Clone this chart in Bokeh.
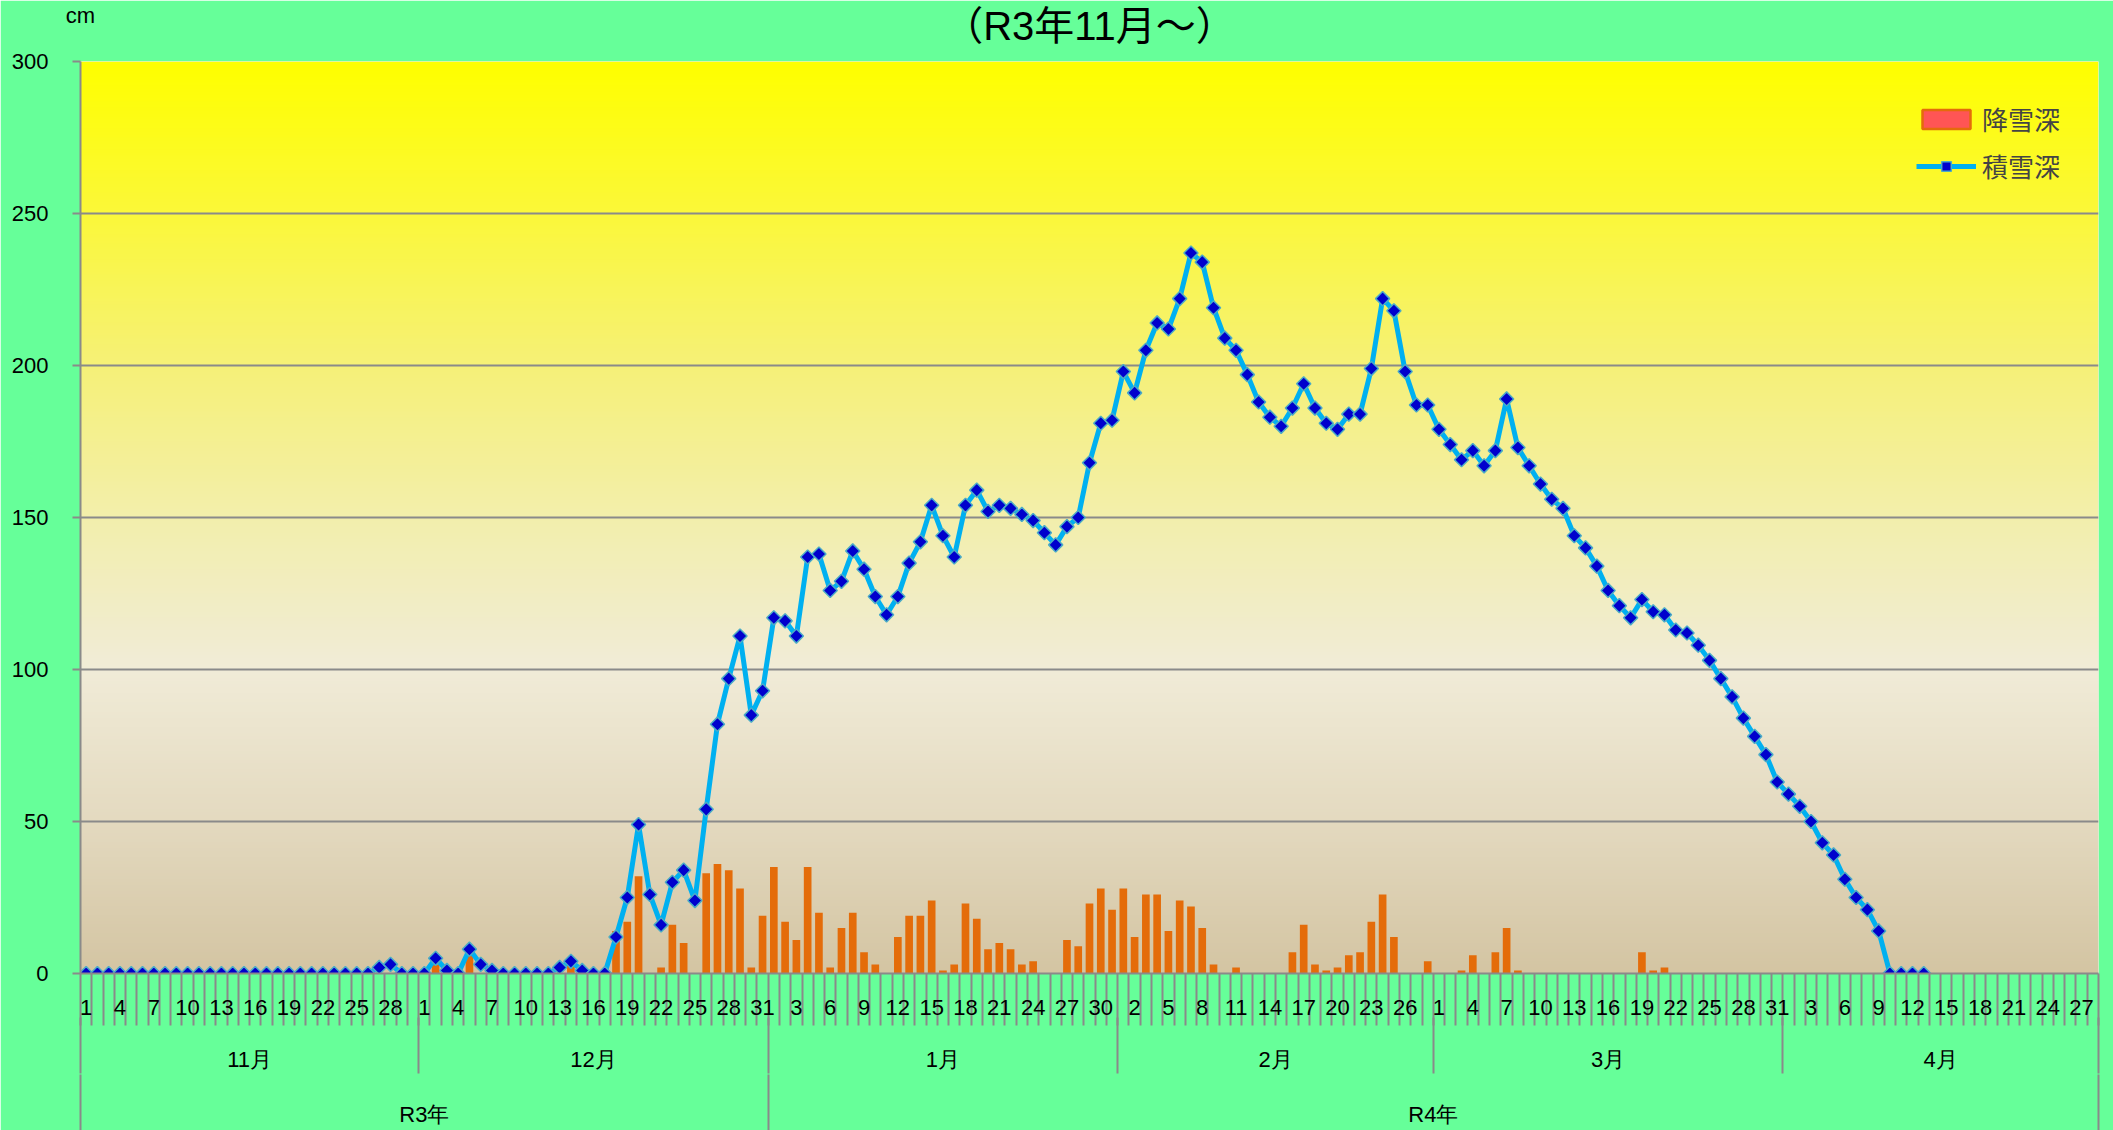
import numpy as np
from bokeh.plotting import figure
from bokeh.models import (ColumnDataSource, Range1d, LinearAxis, FixedTicker, Legend,
                          LegendItem)
from bokeh.embed import file_html
from bokeh.resources import INLINE

# ---------------- data ----------------
title_text = "（R3年11月～）"
unit_text = "cm"
month_names = ["11月", "12月", "1月", "2月", "3月", "4月"]
month_lengths = [30, 31, 31, 28, 31, 28]
year_names = ["R3年", "R4年"]
year_month_counts = [2, 4]
y_ticks = [0, 50, 100, 150, 200, 250, 300]

# 積雪深 (snow depth, cm)
depth_nov = [0] * 26 + [2, 3, 0, 0]
depth_dec = [0, 5, 1, 0, 8, 3, 1, 0, 0, 0, 0, 0, 2, 4, 1, 0, 0, 12, 25, 49,
             26, 16, 30, 34, 24, 54, 82, 97, 111, 85, 93]
depth_jan = [117, 116, 111, 137, 138, 126, 129, 139, 133, 124, 118, 124, 135, 142, 154, 144,
             137, 154, 159, 152, 154, 153, 151, 149, 145, 141, 147, 150, 168, 181, 182]
depth_feb = [198, 191, 205, 214, 212, 222, 237, 234, 219, 209, 205, 197, 188, 183, 180, 186,
             194, 186, 181, 179, 184, 184, 199, 222, 218, 198, 187, 187]
depth_mar = [179, 174, 169, 172, 167, 172, 189, 173, 167, 161, 156, 153, 144, 140, 134, 126,
             121, 117, 123, 119, 118, 113, 112, 108, 103, 97, 91, 84, 78, 72, 63]
depth_apr = [59, 55, 50, 43, 39, 31, 25, 21, 14, 0, 0, 0, 0] + [None] * 15

# 降雪深 (new snowfall, cm)
fall_nov = [0] * 30
fall_dec = [0, 3, 0, 0, 7, 0, 0, 0, 0, 0, 0, 0, 0, 3, 0, 0, 0, 14, 17, 32,
            0, 2, 16, 10, 0, 33, 36, 34, 28, 2, 19]
fall_jan = [35, 17, 11, 35, 20, 2, 15, 20, 7, 3, 0, 12, 19, 19, 24, 1,
            3, 23, 18, 8, 10, 8, 3, 4, 0, 0, 11, 9, 23, 28, 21]
fall_feb = [28, 12, 26, 26, 14, 24, 22, 15, 3, 0, 2, 0, 0, 0, 0, 7,
            16, 3, 1, 2, 6, 7, 17, 26, 12, 0, 0, 4]
fall_mar = [0, 0, 1, 6, 0, 7, 15, 1, 0, 0, 0, 0, 0, 0, 0, 0,
            0, 0, 7, 1, 2, 0, 0, 0, 0, 0, 0, 0, 0, 0, 0]
fall_apr = [0] * 28

# ---------------- build ----------------
depth = depth_nov + depth_dec + depth_jan + depth_feb + depth_mar + depth_apr
fall = fall_nov + fall_dec + fall_jan + fall_feb + fall_mar + fall_apr
n = len(depth)
xs = np.arange(n)
day_labels = [d + 1 for L in month_lengths for d in range(L)]
depth_arr = np.array([np.nan if v is None else v for v in depth], dtype=float)

src = ColumnDataSource(dict(x=xs, depth=depth_arr, fall=np.array(fall, dtype=float)))

FONT = "Noto Sans CJK JP"
NUMFONT = "Liberation Sans"
TITLEFONT = "Liberation Sans, Noto Sans CJK JP"
GRID = "#8A8A8A"

p = figure(frame_width=2018, frame_height=912,
           min_border_left=80, min_border_right=15, min_border_top=61, min_border_bottom=157,
           x_range=Range1d(-0.5, n - 0.5), y_range=Range1d(0, 300),
           x_axis_type=None, output_backend="svg", toolbar_location=None)
p.border_fill_color = "#66FF99"
p.background_fill_color = "#F1ECD8"
p.outline_line_color = None

# plot-area vertical gradient (style)
stop_v = [0, 50, 100, 150, 200, 250, 300]
stop_c = [(212, 197, 163), (228, 218, 192), (241, 236, 216), (243, 239, 172),
          (246, 241, 120), (251, 248, 58), (255, 255, 0)]
H = 300
vv = np.linspace(0, 300, H)
img = np.empty((H, 2), dtype=np.uint32)
view = img.view(dtype=np.uint8).reshape((H, 2, 4))
for k in range(3):
    view[:, :, k] = np.interp(vv, stop_v, [c[k] for c in stop_c])[:, None].astype(np.uint8)
view[:, :, 3] = 255
p.image_rgba(image=[img], x=-0.5, y=0, dw=n, dh=300, level="image")

# y axis / grid
p.yaxis.ticker = FixedTicker(ticks=y_ticks)
p.yaxis.major_tick_out = 8
p.yaxis.major_tick_in = 0
p.yaxis.minor_tick_line_color = None
p.yaxis.axis_line_color = GRID
p.yaxis.axis_line_width = 2
p.yaxis.major_tick_line_color = GRID
p.yaxis.major_tick_line_width = 2
p.yaxis.major_label_text_font = NUMFONT
p.yaxis.major_label_text_font_size = "22px"
p.yaxis.major_label_text_color = "black"
p.yaxis.major_label_standoff = 24
p.ygrid.ticker = FixedTicker(ticks=y_ticks)
p.ygrid.grid_line_color = GRID
p.ygrid.grid_line_width = 2
p.xgrid.visible = False

# bars & line
bars = p.vbar(x="x", top="fall", bottom=0, width=0.68, source=src,
              fill_color="#E46C0A", line_color=None)
bar_legend = p.vbar(x="x", top="fall", bottom=0, width=0.68, source=src,
                    fill_color="#FF5555", line_color="#E46C0A", line_width=2.5)
bar_legend.visible = False
line = p.line("x", "depth", source=src, line_color="#00B0F0", line_width=5)
pts = p.scatter("x", "depth", source=src, marker="square", angle=np.pi / 4, size=10,
                fill_color="#0000CD", line_color="#4BACC6", line_width=1.5)

# top: unit caption (tick label at the plot's left edge) and title (axis label)
unit_pos = -0.5
axT = LinearAxis(ticker=FixedTicker(ticks=[unit_pos]), major_label_overrides={unit_pos: unit_text},
                 axis_label=title_text)
axT.major_tick_out = 0
axT.major_tick_in = 0
axT.major_tick_line_color = None
axT.minor_tick_line_color = None
axT.axis_line_color = None
axT.major_label_text_font = NUMFONT
axT.major_label_text_font_size = "22px"
axT.major_label_text_color = "black"
axT.major_label_standoff = 34
axT.axis_label_standoff = -48
axT.axis_label_text_font = TITLEFONT
axT.axis_label_text_font_size = "40px"
axT.axis_label_text_font_style = "normal"
axT.axis_label_text_color = "black"
p.add_layout(axT, "above")

# x axes: day / month / year
day_ticks = [int(i) for i in xs if i % 3 == 0]
axA = LinearAxis(ticker=FixedTicker(ticks=day_ticks, minor_ticks=[i - 0.5 for i in range(n + 1)]),
                 major_label_overrides={i: str(day_labels[i]) for i in day_ticks})
starts = np.cumsum([0] + month_lengths[:-1])
m_centers = [float(s + L / 2 - 0.5) for s, L in zip(starts, month_lengths)]
m_bounds = [float(s - 0.5) for s in starts] + [n - 0.5]
axB = LinearAxis(ticker=FixedTicker(ticks=m_centers, minor_ticks=m_bounds),
                 major_label_overrides={c: m for c, m in zip(m_centers, month_names)})
y_starts, y_ends = [], []
mi = 0
for cnt in year_month_counts:
    y_starts.append(m_bounds[mi])
    mi += cnt
    y_ends.append(m_bounds[mi])
y_centers = [(a + b) / 2 for a, b in zip(y_starts, y_ends)]
y_bounds = y_starts + [y_ends[-1]]
axC = LinearAxis(ticker=FixedTicker(ticks=y_centers, minor_ticks=y_bounds),
                 major_label_overrides={c: t for c, t in zip(y_centers, year_names)})

for ax, tick_len, stand in ((axA, 52, -26), (axB, 56, -27), (axC, 57, -30)):
    ax.major_tick_out = 0
    ax.major_tick_in = 0
    ax.major_tick_line_color = None
    ax.minor_tick_out = tick_len
    ax.minor_tick_in = 0
    ax.minor_tick_line_color = GRID
    ax.minor_tick_line_width = 2
    ax.major_label_text_font = NUMFONT
    ax.major_label_text_font_size = "22px"
    ax.major_label_text_color = "black"
    ax.major_label_standoff = stand
    ax.axis_line_color = None
axA.axis_line_color = GRID
axA.axis_line_width = 2
p.add_layout(axA, "below")
p.add_layout(axB, "below")
p.add_layout(axC, "below")

# legend
legend = Legend(items=[LegendItem(label="降雪深", renderers=[bar_legend]),
                       LegendItem(label="積雪深", renderers=[line, pts])],
                location=(1836, 789), orientation="vertical",
                background_fill_alpha=0, border_line_color=None,
                inactive_fill_alpha=0,
                label_text_font=FONT, label_text_font_size="26px",
                glyph_width=60, glyph_height=24, label_standoff=6,
                spacing=10, padding=0, margin=0)
p.add_layout(legend, "center")

open("out.html", "w").write(file_html(p, INLINE))
